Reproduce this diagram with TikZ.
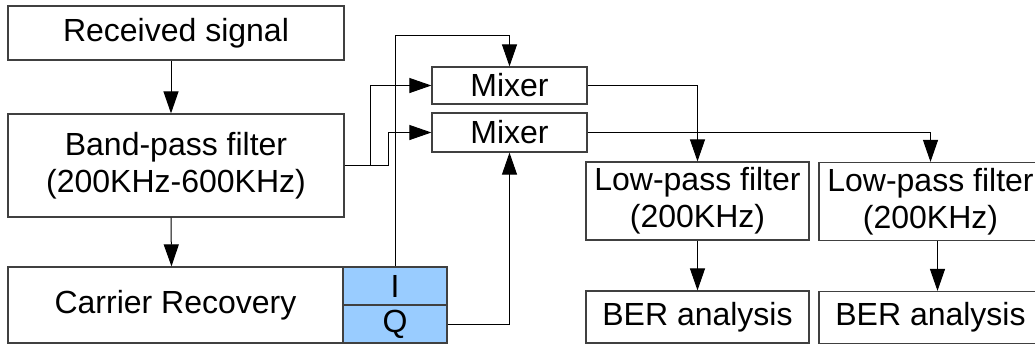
\documentclass[tikz,border=0pt]{standalone}
\usepackage{fontspec}
\setmainfont{Liberation Sans}
\usepackage{xcolor}
\usetikzlibrary{arrows.meta}

\definecolor{iqblue}{HTML}{99CCFF}

\begin{document}
\begin{tikzpicture}[
    x=0.5pt, y=-0.5pt,
    every node/.style={font=\fontsize{16}{18.5}\selectfont},
    box/.style={draw=black!75, line width=0.6pt, inner sep=0pt, align=center},
    iq/.style={box, fill=iqblue, minimum width=52pt, minimum height=19pt},
    arr/.style={-{Triangle[length=11pt, width=7.5pt]}, line width=0.5pt},
]

\useasboundingbox (0,0) rectangle (1035,345);

\node[box, minimum width=168pt, minimum height=27pt] (recv) at (176, 33) {Received signal};
\node[box, minimum width=168pt, minimum height=51.5pt] (bpf) at (176, 165.5) {Band-pass filter\\(200KHz-600KHz)};
\node[box, minimum width=167.5pt, minimum height=38pt] (carrier) at (175.5, 305) {Carrier Recovery};
\node[iq] (sigI) at (395, 286) {I};
\node[iq] (sigQ) at (395, 324) {Q};

\node[box, minimum width=77.5pt, minimum height=18.5pt] (mixA) at (509.5, 85.5) {Mixer};
\node[box, minimum width=77.5pt, minimum height=19.5pt] (mixB) at (509.5, 132.5) {Mixer};

\node[box, minimum width=111.5pt, minimum height=39pt] (lpfA) at (697.5, 201) {Low-pass filter\\(200KHz)};
\node[box, minimum width=111.5pt, minimum height=39pt] (lpfB) at (930.5, 201.5) {Low-pass filter\\(200KHz)};
\node[box, minimum width=111.5pt, minimum height=26pt] (berA) at (697.5, 317) {BER analysis};
\node[box, minimum width=111.5pt, minimum height=26pt] (berB) at (930.5, 317.5) {BER analysis};

\draw[arr] ([xshift=-2.5pt]recv.south) -- ([xshift=-2.5pt]bpf.north);
\draw[arr] ([xshift=-2.5pt]bpf.south) -- ([xshift=-2pt]carrier.north);
\draw[arr] (bpf.east) -- ++(26,0) |- (mixA.west);
\draw[arr] (bpf.east) -- ++(44,0) |- (mixB.west);
\draw[arr] (sigI.north) -- ++(0,-231) -| (mixA.north);
\draw[arr] (sigQ.east) -| (mixB.south);
\draw[arr] (mixA.east) -| (lpfA.north);
\draw[arr] (mixB.east) -| (lpfB.north);
\draw[arr] (lpfA) -- (berA);
\draw[arr] ([xshift=3.5pt]lpfB.south) -- ([xshift=3.5pt]berB.north);

\end{tikzpicture}
\end{document}
